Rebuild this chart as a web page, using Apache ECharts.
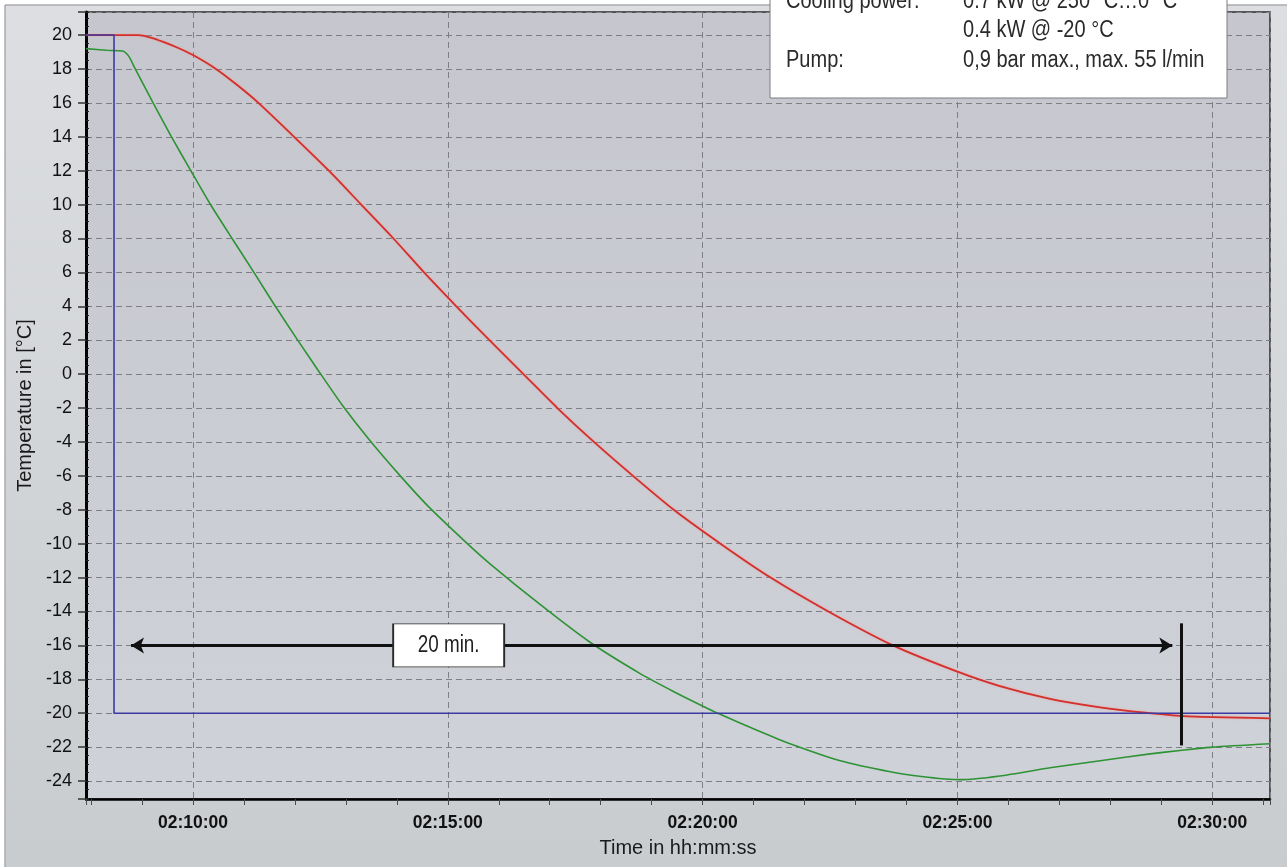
<!DOCTYPE html>
<html>
<head>
<meta charset="utf-8">
<script src="https://cdn.jsdelivr.net/npm/echarts@6/dist/echarts.min.js"></script>
<style>
  html, body { margin: 0; padding: 0; background: #ffffff; }
  #chart { width: 1287px; height: 867px; }
</style>
</head>
<body>
<div id="chart"></div>
<script>
// ---- Axis ranges and tick labels -------------------------------------------
const axisStart = '02:07:54';
const axisEnd = '02:31:08';
const tempMin = -25.06;
const tempMax = 21.36;
const timeTickLabels = ['02:10:00', '02:15:00', '02:20:00', '02:25:00', '02:30:00'];
const tempTickLabels = [20, 18, 16, 14, 12, 10, 8, 6, 4, 2, 0, -2, -4, -6, -8, -10, -12, -14, -16, -18, -20, -22, -24];

// ---- Setpoint (blue) --------------------------------------------------------
const setpointTimes = ['02:07:54', '02:08:27', '02:08:27', '02:31:08'];
const setpointTemps = [20, 20, -20, -20];

// ---- Bath temperature (green) ---------------------------------------------
const bathTimes = ['02:07:54', '02:08:18', '02:08:38', '02:08:45', '02:08:52', '02:09:13', '02:09:34', '02:09:58',
  '02:10:20', '02:10:46', '02:11:13', '02:11:35', '02:12:04', '02:12:29', '02:12:56', '02:13:28', '02:14:04',
  '02:14:37', '02:15:22', '02:15:50', '02:16:49', '02:17:47', '02:18:46', '02:19:25', '02:20:01', '02:20:20',
  '02:21:04', '02:21:43', '02:22:42', '02:23:41', '02:24:20', '02:24:46', '02:25:03', '02:25:50', '02:26:49',
  '02:27:48', '02:28:47', '02:29:22', '02:30:00', '02:31:08'];
const bathTemps = [19.2, 19.1, 19.05, 18.7, 18.0, 16.0, 14.05, 11.95,
  10.05, 8.0, 5.9, 4.15, 1.95, 0.1, -1.85, -3.9, -6.0,
  -7.8, -9.95, -11.2, -13.6, -15.8, -17.65, -18.7, -19.6, -20.05,
  -21.0, -21.8, -22.8, -23.45, -23.75, -23.88, -23.92, -23.7, -23.22,
  -22.8, -22.4, -22.2, -22.0, -21.8];

// ---- Process temperature (red) ---------------------------------------------
const processTimes = ['02:07:54', '02:08:56', '02:09:09', '02:09:25', '02:09:42', '02:10:00', '02:10:27', '02:10:52',
  '02:11:17', '02:11:59', '02:12:40', '02:13:18', '02:13:56', '02:14:32', '02:15:10', '02:15:49', '02:16:29',
  '02:17:09', '02:17:52', '02:18:38', '02:19:26', '02:20:21', '02:21:20', '02:22:28', '02:23:44', '02:25:00',
  '02:25:50', '02:26:49', '02:27:48', '02:28:41', '02:29:26', '02:31:08'];
const processTemps = [20.0, 20.0, 19.87, 19.6, 19.25, 18.82, 18.0, 17.05,
  16.0, 14.0, 12.0, 10.0, 8.0, 6.0, 4.0, 2.0, 0.0,
  -2.0, -4.0, -6.0, -8.0, -10.0, -12.0, -14.0, -16.0, -17.55,
  -18.4, -19.15, -19.65, -19.97, -20.17, -20.3];

// ---- Annotation: duration arrow ----------------------------------------------
const spanStart = '02:08:47';
const spanEnd = '02:29:13';
const spanTemp = -16;
const spanLabel = '20 min.';
const spanLabelTime = '02:15:01';
const markerTime = '02:29:23';
const markerTop = -14.7;
const markerBottom = -21.9;

// ---- Device data box --------------------------------------------------------
const infoRows = [
  ['Cooling power:', '0.7 kW @ 250 °C…0 °C'],
  ['', '0.4 kW @ -20 °C'],
  ['Pump:', '0,9 bar max., max. 55 l/min']
];

// ---- Helpers ---------------------------------------------------------------
const toMin = s => { const p = s.split(':').map(Number); return p[0] * 60 + p[1] + p[2] / 60; };
const fmtTime = v => {
  const t = Math.round(v * 60);
  return [Math.floor(t / 3600), Math.floor((t % 3600) / 60), t % 60]
    .map(n => String(n).padStart(2, '0')).join(':');
};
const pairs = (times, temps) => times.map((t, i) => [toMin(t), temps[i]]);

const xMin = toMin(axisStart), xMax = toMin(axisEnd);
const timeTickSet = new Set(timeTickLabels);
const tempTickSet = new Set(tempTickLabels.map(String));

const sansFont = '"Liberation Sans", Arial, sans-serif';
// condensed look: regular sans squeezed horizontally
const boxFont = '23px "Liberation Sans", Arial, sans-serif';
const boxSqueeze = 0.87;

const chart = echarts.init(document.getElementById('chart'), null, { renderer: 'canvas' });

const baseGraphics = [
  {
    type: 'rect', z: -1,
    shape: { x: 5, y: 5, width: 1290, height: 870 },
    style: {
      fill: { type: 'linear', x: 0, y: 0, x2: 0, y2: 1,
        colorStops: [{ offset: 0, color: '#dcdee1' }, { offset: 1, color: '#c9cccf' }] },
      stroke: '#a9abaf', lineWidth: 1
    }
  },
  {
    type: 'rect', z: 100,
    shape: { x: 770, y: -2, width: 457, height: 100 },
    style: { fill: '#ffffff', stroke: '#7c7c7c', lineWidth: 1 }
  }
];
infoRows.forEach((row, i) => {
  const y = 1.5 + i * 29.5;
  if (row[0]) baseGraphics.push({ type: 'text', z: 101, x: 786, y: y, scaleX: boxSqueeze,
    style: { text: row[0], font: boxFont, fill: '#2a2a2a', verticalAlign: 'middle' } });
  baseGraphics.push({ type: 'text', z: 101, x: 963, y: y, scaleX: boxSqueeze,
    style: { text: row[1], font: boxFont, fill: '#2a2a2a', verticalAlign: 'middle' } });
});

const option = {
  animation: false,
  backgroundColor: '#ffffff',
  graphic: baseGraphics,
  grid: {
    left: 86, right: 17, top: 12, bottom: 68,
    show: true,
    backgroundColor: { type: 'linear', x: 0, y: 0, x2: 0, y2: 1,
      colorStops: [{ offset: 0, color: '#c6c7ce' }, { offset: 1, color: '#cfd2d8' }] },
    borderColor: '#2a2a2a', borderWidth: 1.5
  },
  xAxis: [
    {
      type: 'value', position: 'bottom', min: xMin, max: xMax, splitNumber: 5,
      name: 'Time in hh:mm:ss', nameLocation: 'middle', nameGap: 39,
      nameTextStyle: { fontFamily: sansFont, fontSize: 20, color: '#1a1a1a' },
      axisLine: { show: true, onZero: false, lineStyle: { color: '#000000', width: 2.5 } },
      axisTick: { show: false },
      axisLabel: {
        margin: 15, fontFamily: sansFont, fontSize: 17.5, fontWeight: 'bold', color: '#111111',
        formatter: v => { const s = fmtTime(v); return timeTickSet.has(s) ? s : ''; }
      },
      splitLine: { show: true, lineStyle: { color: '#7d7e86', width: 1, type: [6, 4] } }
    },
    {
      // one-minute tick marks under the time axis
      type: 'value', position: 'bottom', min: xMin, max: xMax, splitNumber: 23,
      axisLine: { show: false, onZero: false },
      axisTick: { show: true, length: 6, lineStyle: { color: '#4a4a4a', width: 1 } },
      axisLabel: { show: false },
      splitLine: { show: false }
    }
  ],
  yAxis: [
    {
      type: 'value', position: 'left', min: tempMin, max: tempMax, splitNumber: 23,
      name: 'Temperature in [°C]', nameLocation: 'middle', nameGap: 45,
      nameTextStyle: { fontFamily: sansFont, fontSize: 20, color: '#1a1a1a' },
      axisLine: { show: true, onZero: false, lineStyle: { color: '#000000', width: 3 } },
      axisTick: { show: true, length: 8, lineStyle: { color: '#333333', width: 1.5 } },
      axisLabel: {
        margin: 14, fontFamily: sansFont, fontSize: 18, color: '#111111',
        formatter: v => { const s = String(Math.round(v)); return (Math.abs(v - Math.round(v)) < 1e-6 && tempTickSet.has(s)) ? s : ''; }
      },
      splitLine: { show: true, lineStyle: { color: '#7d7e86', width: 1, type: [6, 4] } }
    },
    {
      // half-degree tick marks along the temperature axis
      type: 'value', position: 'left', min: tempMin, max: tempMax, splitNumber: 93,
      axisLine: { show: false, onZero: false },
      axisTick: { show: true, inside: true, length: 3, lineStyle: { color: '#222222', width: 1 } },
      axisLabel: { show: false },
      splitLine: { show: false }
    }
  ],
  series: [
    {
      name: 'Process', type: 'line', xAxisIndex: 0, yAxisIndex: 0,
      data: pairs(processTimes, processTemps),
      showSymbol: false, symbol: 'none', z: 2, smooth: 0.2,
      lineStyle: { color: '#d1302c', width: 1.8, shadowColor: 'rgba(255,140,140,0.7)', shadowBlur: 2 },
      markLine: {
        silent: true, z: 5,
        symbol: ['arrow', 'arrow'], symbolSize: [12, 13],
        label: { show: false },
        lineStyle: { color: '#111111', width: 3, type: 'solid' },
        data: [
          [{ coord: [toMin(spanStart), spanTemp] }, { coord: [toMin(spanEnd), spanTemp] }],
          [{ coord: [toMin(markerTime), markerTop], symbol: 'none' }, { coord: [toMin(markerTime), markerBottom], symbol: 'none' }]
        ]
      }
    },
    {
      name: 'Bath', type: 'line', xAxisIndex: 0, yAxisIndex: 0,
      data: pairs(bathTimes, bathTemps),
      showSymbol: false, symbol: 'none', z: 3, smooth: 0.2,
      lineStyle: { color: '#2e9334', width: 1.6 }
    },
    {
      name: 'Setpoint', type: 'line', xAxisIndex: 0, yAxisIndex: 0,
      data: pairs(setpointTimes, setpointTemps),
      showSymbol: false, symbol: 'none', z: 4,
      lineStyle: { color: '#3b3ba3', width: 1.6 },
      markPoint: {
        silent: true, z: 8,
        symbol: 'rect', symbolSize: [111, 43],
        itemStyle: { color: '#ffffff', borderColor: '#2a2a2a', borderWidth: 1.2 },
        label: { show: false },
        data: [{ coord: [toMin(spanLabelTime), spanTemp] }]
      }
    }
  ]
};

chart.setOption(option);

// duration label text, placed at the centre of its box
const labelPos = chart.convertToPixel({ xAxisIndex: 0, yAxisIndex: 0 }, [toMin(spanLabelTime), spanTemp]);
chart.setOption({
  graphic: baseGraphics.concat([{
    type: 'text', z: 101, x: labelPos[0], y: labelPos[1] + 0.5, scaleX: 0.82,
    style: { text: spanLabel, font: boxFont, fill: '#1e1e1e', align: 'center', verticalAlign: 'middle' }
  }])
});
</script>
</body>
</html>
